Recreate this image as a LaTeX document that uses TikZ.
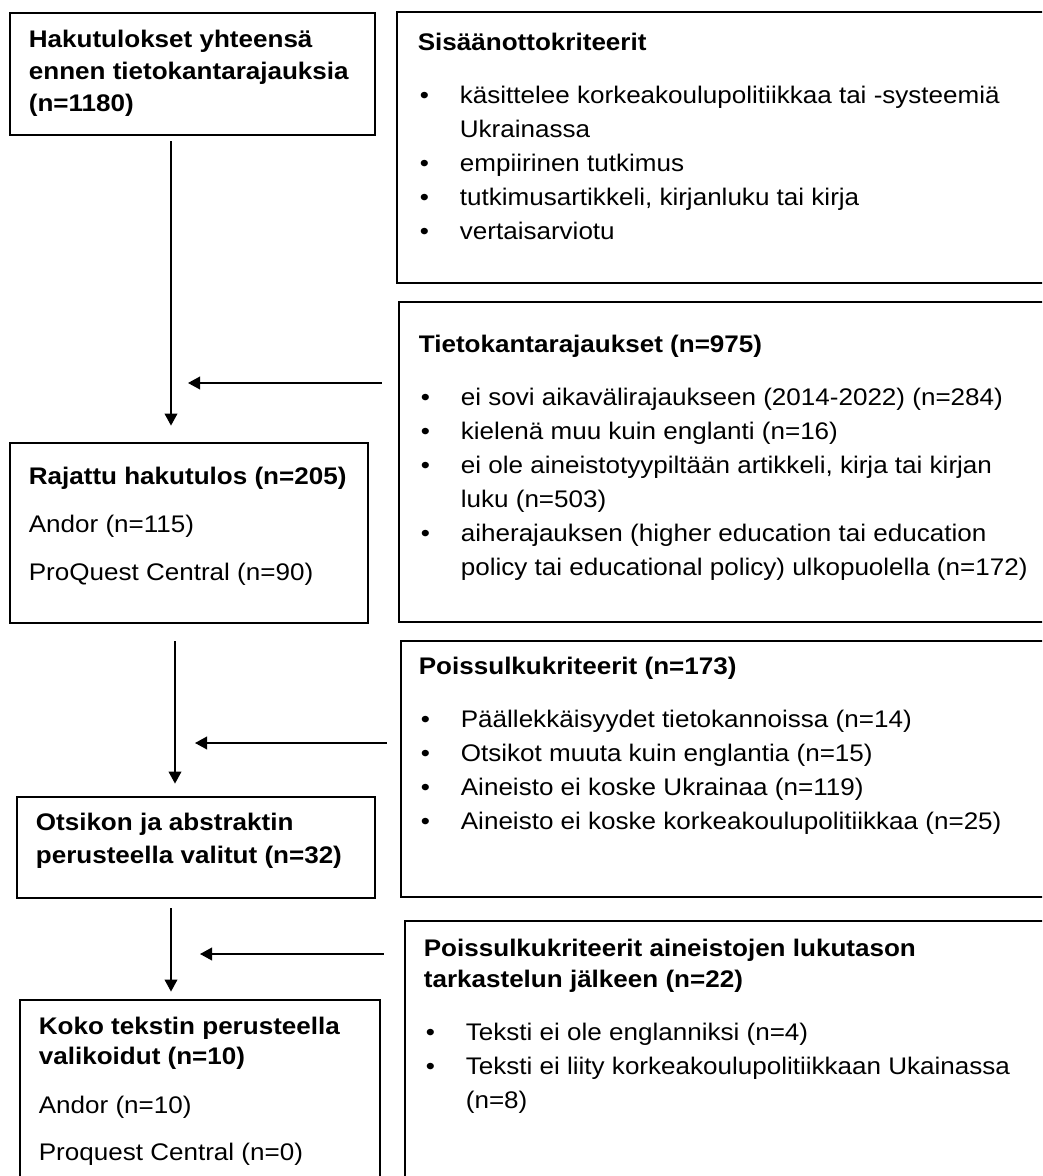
\documentclass[tikz,border=0pt]{standalone}
\usepackage{fontspec}
\setmainfont{Liberation Sans}
\newfontfamily\diafont[FakeStretch=1.085]{Liberation Sans}
\usetikzlibrary{positioning,fit,arrows.meta}
\newcommand{\bul}{\makebox[31.5pt][l]{\hspace{1.5pt}\textbullet}}
\newcommand{\nobul}{\makebox[31.5pt]{}}

\begin{document}
\begin{tikzpicture}[x=0.75pt,y=-0.75pt,
    box/.style={draw,line width=2.1pt,inner sep=0pt},
    lefttext/.style={font=\diafont\fontsize{18pt}{24pt}\selectfont,align=left,inner sep=0pt},
    righttext/.style={font=\diafont\fontsize{18pt}{25.5pt}\selectfont,align=left,inner sep=0pt},
    arr/.style={-{Triangle[width=9.5pt,length=9pt]},line width=1.2pt}]
    \useasboundingbox (0,0) rectangle (1042,1176);
    \clip (0,0) rectangle (1042,1176);

    % the boxes on the left
    \node[box,fit={(10,13) (375,135)}] (haku) {};
    \node[box,fit={(10,443) (368,623)}] (rajattu) {};
    \node[box,fit={(17,797) (375,898)}] (otsikon) {};
    \node[box,fit={(20,1000) (380,1200)}] (koko) {};

    % the boxes on the right, cut by the page edge
    \node[box,fit={(397,12) (1060,283)}] (sisaan) {};
    \node[box,fit={(399,302) (1060,622)}] (tieto) {};
    \node[box,fit={(401,641) (1060,897)}] (poissulku) {};
    \node[box,fit={(405,921) (1060,1200)}] (lukutaso) {};

    % texts of the left boxes
    \node[lefttext,below right=13.5pt and 15pt of haku.north west] (hakuT)
        {\textbf{Hakutulokset yhteensä}\\\textbf{ennen tietokantarajauksia}\\\textbf{(n=1180)}};
    \node[lefttext,below right=18.75pt and 15pt of rajattu.north west] (rajattuT)
        {\textbf{Rajattu hakutulos (n=205)}\\[12pt]Andor (n=115)\\[12pt]ProQuest Central (n=90)};
    \node[lefttext,below right=12.75pt and 15pt of otsikon.north west] (otsikonT)
        {\textbf{Otsikon ja abstraktin}\\[0.75pt]\textbf{perusteella valitut (n=32)}};
    \node[lefttext,below right=13.5pt and 15pt of koko.north west] (kokoT)
        {\textbf{Koko tekstin perusteella}\\[-1.5pt]\textbf{valikoidut (n=10)}\\[12.75pt]Andor (n=10)\\[11.25pt]Proquest Central (n=0)};

    % texts of the right boxes
    \node[righttext,below right=16.5pt and 16.5pt of sisaan.north west] (sisaanT)
        {\textbf{Sisäänottokriteerit}\\[14.25pt]
         \bul käsittelee korkeakoulupolitiikkaa tai -systeemiä\\
         \nobul Ukrainassa\\
         \bul empiirinen tutkimus\\
         \bul tutkimusartikkeli, kirjanluku tai kirja\\
         \bul vertaisarviotu};
    \node[righttext,below right=25.5pt and 15.75pt of tieto.north west] (tietoT)
        {\textbf{Tietokantarajaukset (n=975)}\\[14.25pt]
         \bul ei sovi aikavälirajaukseen (2014-2022) (n=284)\\
         \bul kielenä muu kuin englanti (n=16)\\
         \bul ei ole aineistotyypiltään artikkeli, kirja tai kirjan\\
         \nobul luku (n=503)\\
         \bul aiherajauksen (higher education tai education\\
         \nobul policy tai educational policy) ulkopuolella (n=172)};
    \node[righttext,below right=12.75pt and 14.25pt of poissulku.north west] (poissulkuT)
        {\textbf{Poissulkukriteerit (n=173)}\\[14.25pt]
         \bul Päällekkäisyydet tietokannoissa (n=14)\\
         \bul Otsikot muuta kuin englantia (n=15)\\
         \bul Aineisto ei koske Ukrainaa (n=119)\\
         \bul Aineisto ei koske korkeakoulupolitiikkaa (n=25)};
    \node[righttext,below right=14.25pt and 15pt of lukutaso.north west] (lukutasoT)
        {\textbf{Poissulkukriteerit aineistojen lukutason}\\[-2pt]
         \textbf{tarkastelun jälkeen (n=22)}\\[14.25pt]
         \bul Teksti ei ole englanniksi (n=4)\\
         \bul Teksti ei liity korkeakoulupolitiikkaan Ukainassa\\
         \nobul (n=8)};

    % the flow downwards
    \coordinate (col1) at (171,0);
    \coordinate (col2) at (175,0);
    \draw[arr] ([yshift=-3.75pt]haku.south -| col1) -- ([yshift=12pt]rajattu.north -| col1);
    \draw[arr] ([yshift=-12.75pt]rajattu.south -| col2) -- ([yshift=9pt]otsikon.north -| col2);
    \draw[arr] ([yshift=-6.75pt]otsikon.south -| col1) -- ([yshift=5.25pt]koko.north -| col1);

    % the exclusions coming in from the right
    \coordinate (tip1) at (188,383);
    \coordinate (tip2) at (195,743);
    \coordinate (tip3) at (200,954);
    \draw[arr] ([xshift=-12pt]tieto.west |- tip1) -- (tip1);
    \draw[arr] ([xshift=-9.75pt]poissulku.west |- tip2) -- (tip2);
    \draw[arr] ([xshift=-15pt]lukutaso.west |- tip3) -- (tip3);
\end{tikzpicture}
\end{document}
